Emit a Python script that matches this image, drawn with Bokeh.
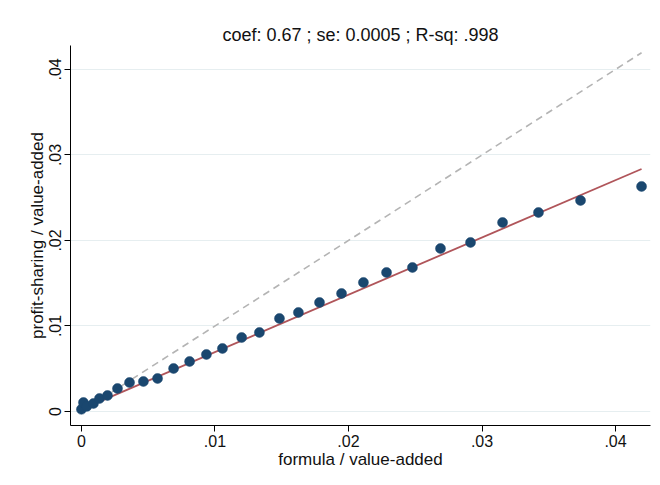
import numpy as np
from bokeh.plotting import figure
from bokeh.models import FixedTicker, CustomJSTickFormatter, Range1d
from bokeh.embed import file_html
from bokeh.resources import INLINE

# binned data: formula / value-added (x) vs profit-sharing / value-added (y)
x_formula = [0.0, 0.00015, 0.0004, 0.0009, 0.00135, 0.00195, 0.0027, 0.0036,
             0.00464, 0.0057, 0.0069, 0.0081, 0.00936, 0.01056, 0.0120,
             0.01333, 0.01483, 0.01625, 0.01783, 0.01948, 0.02112, 0.02285,
             0.02479, 0.02689, 0.02914, 0.03154, 0.03423, 0.03738, 0.04195]
y_profit = [0.00025, 0.00105, 0.0006, 0.00094, 0.00152, 0.00187, 0.00269, 0.00339,
            0.00351, 0.00386, 0.00503, 0.00585, 0.00667, 0.00737, 0.00865,
            0.00924, 0.01088, 0.01158, 0.01275, 0.0138, 0.01509, 0.01626,
            0.01684, 0.01906, 0.01977, 0.0221, 0.02327, 0.02468, 0.02632]

fit_coef = 0.67
fit_intercept = 0.00025
title_text = "coef: 0.67 ; se: 0.0005 ; R-sq: .998"
tick_values = [0.0, 0.01, 0.02, 0.03, 0.04]

FONT = "Liberation Sans"

p = figure(width=652, height=477, output_backend="svg", toolbar_location=None,
           x_range=Range1d(-0.00082, 0.04262), y_range=Range1d(-0.00164, 0.0428),
           min_border_left=70, min_border_right=2, min_border_top=45,
           min_border_bottom=52)

p.title.text = title_text
p.title.align = "center"
p.title.text_font = FONT
p.title.text_font_style = "normal"
p.title.text_font_size = "18px"
p.title.text_color = "#111111"
p.title.standoff = 2

p.outline_line_color = None
p.background_fill_color = "white"

# 45-degree line
xmax = max(x_formula)
p.line([0, xmax], [0, xmax], line_color="#b4b4b4", line_width=1.6, line_dash="7 5")
# fitted line
xs = np.array([min(x_formula), xmax])
p.line(xs, fit_intercept + fit_coef * xs, line_color="#b0555a", line_width=1.8)
# points
p.scatter(x_formula, y_profit, size=10, fill_color="#1a476f", line_color="#1a476f",
          line_width=0.5)

fmt = CustomJSTickFormatter(code="""
if (Math.abs(tick) < 1e-9) return "0";
return tick.toFixed(2).replace(/^0/, "");
""")

for ax in (p.xaxis[0], p.yaxis[0]):
    ax.ticker = FixedTicker(ticks=tick_values)
    ax.formatter = fmt
    ax.minor_tick_line_color = None
    ax.major_tick_out = 6
    ax.major_tick_in = 0
    ax.axis_line_color = "black"
    ax.major_tick_line_color = "black"
    ax.major_label_text_font = FONT
    ax.major_label_text_font_size = "16px"
    ax.major_label_text_color = "#111111"
    ax.axis_label_text_font = FONT
    ax.axis_label_text_font_size = "17px"
    ax.axis_label_text_font_style = "normal"
    ax.axis_label_text_color = "#111111"

p.xaxis.axis_label = "formula / value-added"
p.yaxis.axis_label = "profit-sharing / value-added"
p.yaxis.major_label_orientation = "vertical"
p.xaxis.axis_label_standoff = 0
p.yaxis.axis_label_standoff = 0
p.xaxis.major_label_standoff = 3
p.yaxis.major_label_standoff = 3

p.xgrid.grid_line_color = None
p.ygrid.grid_line_color = "#e6eef0"
p.ygrid.grid_line_width = 1.2
p.ygrid.ticker = FixedTicker(ticks=tick_values)

open("out.html", "w").write(file_html(p, INLINE))
